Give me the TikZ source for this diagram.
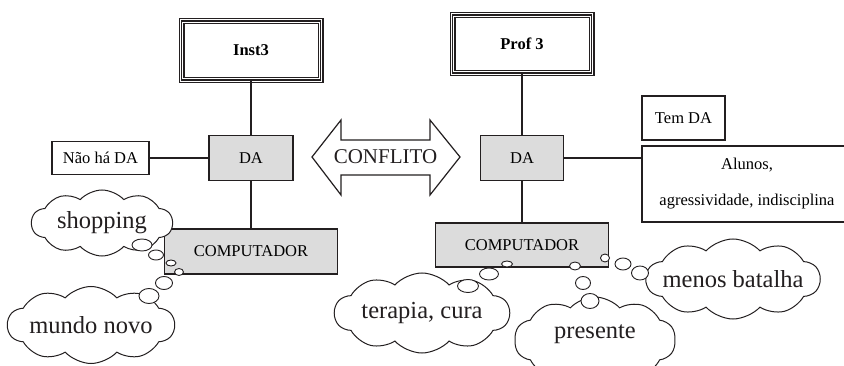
\documentclass[tikz,border=0pt]{standalone}
\usepackage{fontspec}
\setmainfont{Liberation Serif}
\usetikzlibrary{shapes.symbols,shapes.geometric}
\definecolor{boxgray}{RGB}{220,220,220}
\definecolor{ink}{RGB}{35,31,32}
\begin{document}
\begin{tikzpicture}[x=1pt,y=-1pt,
  every node/.style={inner sep=0pt, outer sep=0pt},
  plainbox/.style={draw=ink, line width=1.3pt, fill=white, font=\fontsize{16.5}{20}\selectfont},
  graybox/.style={plainbox, fill=boxgray},
  triplebox/.style={draw=ink, line width=6pt, fill=white, font=\bfseries\fontsize{16.5}{20}\selectfont,
    postaction={draw=white, line width=3.6pt}, postaction={draw=ink, line width=1.5pt}},
  link/.style={draw=ink, line width=1.8pt},
  thought/.style={cloud, cloud puffs=10, cloud puff arc=95, cloud ignores aspect, draw=ink, line width=1pt, fill=white},
  thoughttext/.style={font=\fontsize{24.5}{28}\selectfont, text=ink},
  bubble/.style={ellipse, draw=ink, line width=0.9pt, fill=white}
]
\useasboundingbox (0,0) rectangle (844,366);
\clip (0,0) rectangle (844,366);

% boxes
\node[triplebox, minimum width=139pt, minimum height=59pt] (inst3) at (251,50.5) {Inst3};
\node[triplebox, minimum width=139pt, minimum height=58pt] (prof3) at (522,44) {Prof 3};
\node[graybox, minimum width=84pt, minimum height=45pt] (daL) at (251,158) {DA};
\node[plainbox, minimum width=97pt, minimum height=33pt] (naoha) at (100.5,158) {Não há DA};
\node[graybox, minimum width=83pt, minimum height=45pt] (daR) at (522,158) {DA};
\node[plainbox, minimum width=83pt, minimum height=44pt] (temda) at (683.5,118) {Tem DA};
\node[plainbox, minimum width=210pt, minimum height=76pt, align=center, font=\fontsize{16.5}{36}\selectfont] (alunos) at (747,184) {Alunos,\\agressividade, indisciplina};
\node[graybox, minimum width=173pt, minimum height=45pt] (compL) at (251,251.5) {COMPUTADOR};
\node[graybox, minimum width=173pt, minimum height=44pt] (compR) at (522,245) {COMPUTADOR};

% links
\draw[link] (inst3.south) -- (daL.north);
\draw[link] (daL.south) -- (compL.north);
\draw[link] (naoha.east) -- (daL.west);
\draw[link] (prof3.south) -- (daR.north);
\draw[link] (daR.south) -- (compR.north);
\draw[link] (daR.east) -- (daR.east -| alunos.west);

% conflict double arrow
\draw[ink, line width=1.2pt, fill=white] (312,157) -- (341,120) -- (341,140) -- (430,140) -- (430,120)
  -- (460,157) -- (430,195) -- (430,175) -- (341,175) -- (341,195) -- cycle;
\node[font=\fontsize{21}{24}\selectfont, text=ink] (conflito) at (385.5,157) {CONFLITO};

% thought clouds
\node[thought, minimum width=141pt, minimum height=66pt, label={[thoughttext]center:shopping}] (shop) at (102,223) {};
\node[thought, minimum width=167pt, minimum height=77pt, label={[thoughttext]center:mundo novo}] (mundo) at (91,325) {};
\node[thought, minimum width=175pt, minimum height=80pt, label={[thoughttext]center:terapia, cura}] (terapia) at (422,313) {};
\node[thought, minimum width=174pt, minimum height=80pt, label={[thoughttext]center:menos batalha}] (menos) at (733,279) {};
\node[thought, minimum width=161pt, minimum height=86pt, label={[thoughttext, yshift=6pt]center:presente}] (presente) at (595,340) {};

% bubbles
\node[bubble, minimum width=20pt, minimum height=12pt] (b1) at (142,245) {};
\node[bubble, minimum width=15pt, minimum height=10pt] (b2) at (156,255) {};
\node[bubble, minimum width=10pt, minimum height=6pt] (b3) at (171,263) {};
\node[bubble, minimum width=9pt, minimum height=7pt] (b4) at (179,272) {};
\node[bubble, minimum width=17pt, minimum height=13pt] (b5) at (164,283) {};
\node[bubble, minimum width=20pt, minimum height=15pt] (b6) at (149,296) {};

\node[bubble, minimum width=11pt, minimum height=6pt] (t1) at (507,264) {};
\node[bubble, minimum width=19pt, minimum height=12pt] (t2) at (489,274) {};
\node[bubble, minimum width=21pt, minimum height=13pt] (t3) at (468,286) {};

\node[bubble, minimum width=11pt, minimum height=8pt] (p1) at (575,266) {};
\node[bubble, minimum width=15pt, minimum height=13pt] (p2) at (583,283) {};
\node[bubble, minimum width=18pt, minimum height=15pt] (p3) at (590,301) {};

\node[bubble, minimum width=9pt, minimum height=8pt] (m1) at (605,258) {};
\node[bubble, minimum width=16pt, minimum height=12pt] (m2) at (623,264) {};
\node[bubble, minimum width=17pt, minimum height=14pt] (m3) at (640,273) {};
\end{tikzpicture}
\end{document}
